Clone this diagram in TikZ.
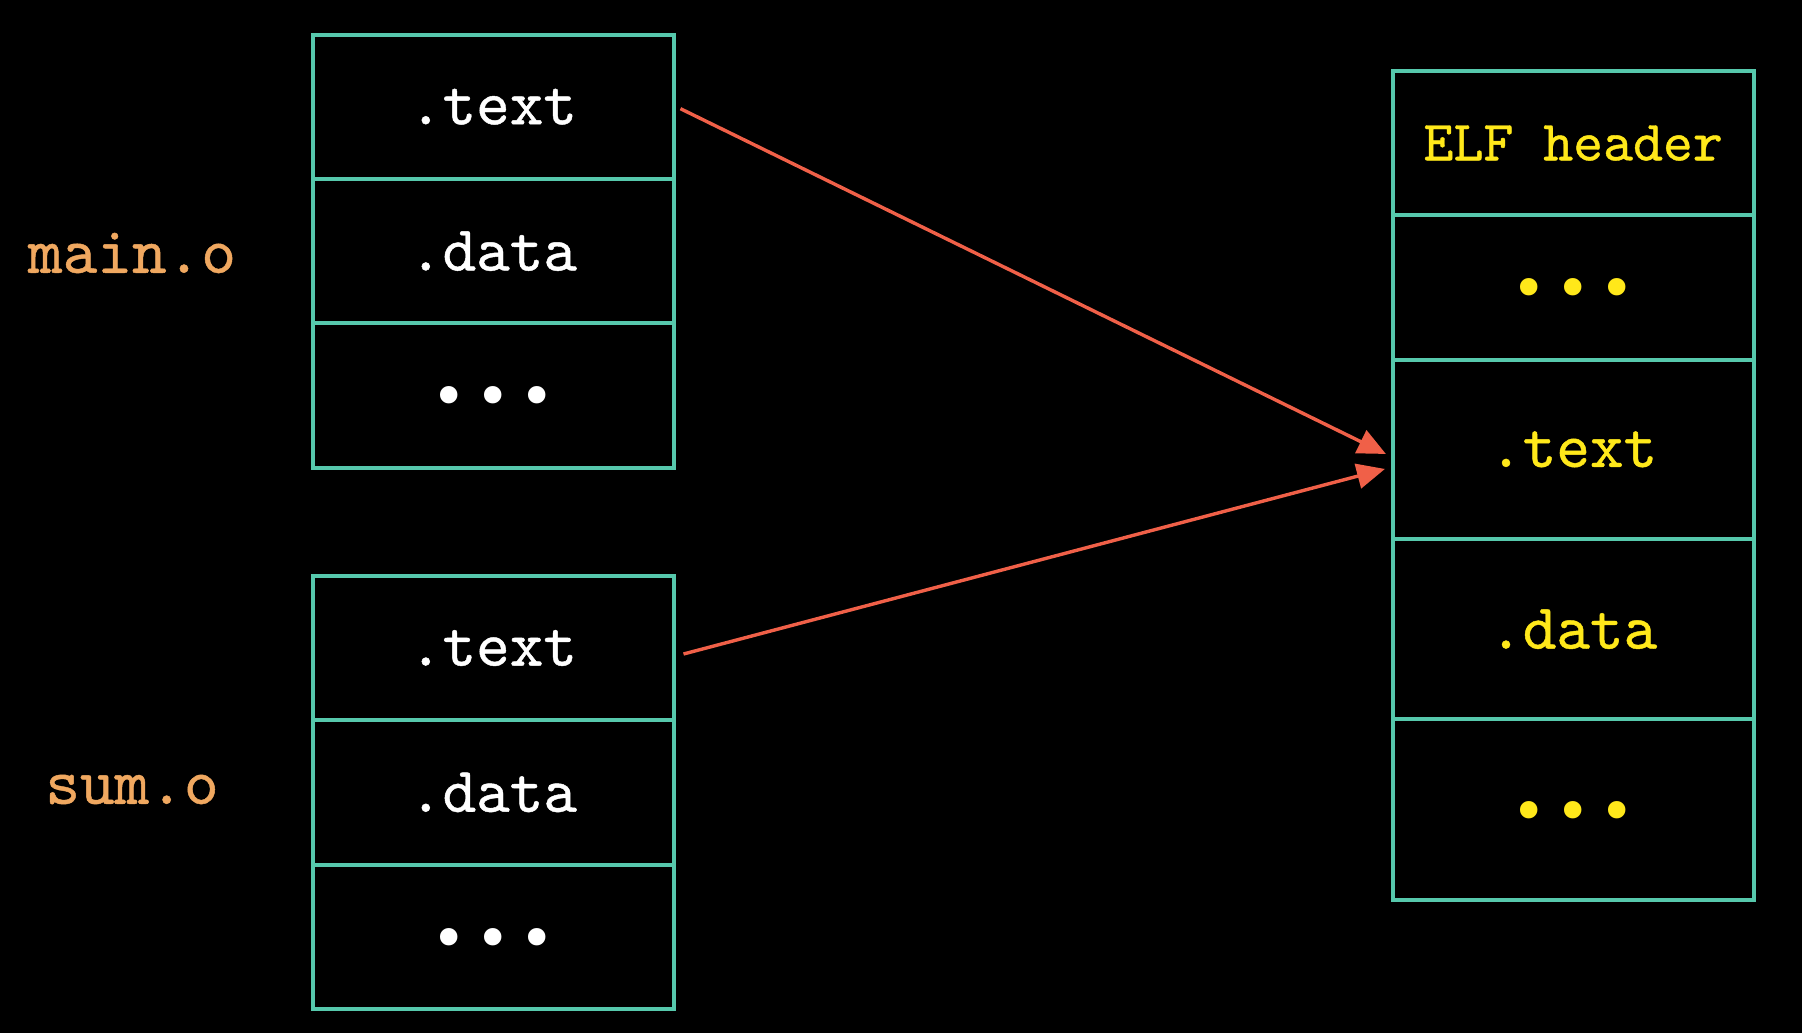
\documentclass[tikz,border=0pt]{standalone}
\usepackage{fontspec}
\newfontfamily\codefont{lmmono10-regular.otf}[FakeBold=0.7]
\newfontfamily\dotfont{DejaVu Sans}
\usetikzlibrary{arrows.meta}
\definecolor{cellline}{RGB}{86,200,172}
\definecolor{filelabel}{RGB}{240,168,96}
\definecolor{elfyellow}{RGB}{255,232,26}
\definecolor{arrowred}{RGB}{240,96,72}
\newcommand{\threedots}{\raisebox{-3.5pt}[\height][\depth]{\makebox[22pt]{•}\makebox[22pt]{•}\makebox[22pt]{•}}}
\tikzset{
  cell/.style={draw=cellline, line width=2pt, inner sep=0pt, minimum width=180.5pt,
    font=\codefont\fontsize{32}{36}\selectfont, text=white},
  elfcell/.style={cell, text=elfyellow},
  dotstxt/.style={font=\dotfont\fontsize{30}{34}\selectfont},
  fname/.style={font=\codefont\fontsize{33}{36}\selectfont, text=filelabel},
  link/.style={draw=arrowred, line width=1.7pt, -{Triangle[length=14pt,width=12.5pt]}}
}
\begin{document}
\begin{tikzpicture}[x=0.5pt,y=-0.5pt]
\fill[black] (0,0) rectangle (1802,1033);
\useasboundingbox (0,0) rectangle (1802,1033);
% main.o
\node[cell, minimum height=72.2pt] (mt) at (493,106.7) {.text};
\node[cell, minimum height=72.2pt] (md) at (493,251.1) {.data};
\node[cell, minimum height=72.2pt, dotstxt] (mx) at (493,395.5) {\threedots};
\node[fname] (mlabel) at (132,253) {main.o};
% sum.o
\node[cell, minimum height=72.2pt] (st) at (493,648) {.text};
\node[cell, minimum height=72.2pt] (sd) at (493,792.4) {.data};
\node[cell, minimum height=72.2pt, dotstxt] (sx) at (493,936.8) {\threedots};
\node[fname] (slabel) at (132,789.5) {sum.o};
% ELF
\node[elfcell, minimum height=71.8pt, font=\codefont\fontsize{28.5}{32}\selectfont] (eh) at (1573.2,143.1) {ELF header};
\node[elfcell, minimum height=72.4pt, dotstxt] (ex1) at (1573.2,287.3) {\threedots};
\node[elfcell, minimum height=89.65pt] (et) at (1573.2,449.35) {.text};
\node[elfcell, minimum height=90.2pt] (ed) at (1573.2,629.2) {.data};
\node[elfcell, minimum height=90.2pt, dotstxt] (ex2) at (1573.2,809.6) {\threedots};
% arrows
\draw[link] ([xshift=2.5pt,yshift=-1pt]mt.east) -- ([xshift=-2.4pt,yshift=-2.3pt]et.west);
\draw[link] ([xshift=4pt,yshift=-3pt]st.east) -- ([xshift=-2.9pt,yshift=-9.8pt]et.west);
\end{tikzpicture}
\end{document}
